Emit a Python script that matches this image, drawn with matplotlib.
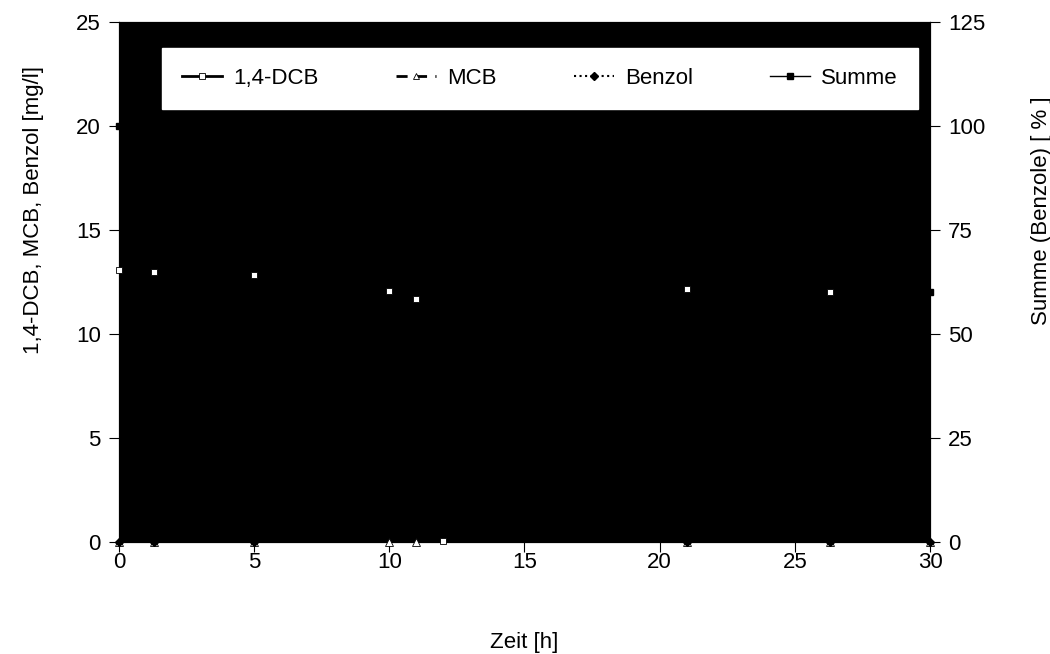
import numpy as np
import matplotlib.pyplot as plt
from matplotlib.lines import Line2D

plt.rcParams['font.family'] = ['Liberation Sans', 'DejaVu Sans']

# time points [h]
t_dcb = [0, 1.3, 5, 10, 11, 12, 21, 26.3]
dcb = [13.1, 13.0, 12.85, 12.05, 11.7, 0.05, 12.15, 12.0]

t_mcb = [0, 1.3, 5, 10, 11, 21, 26.3, 30]
mcb = [0, 0, 0, 0, 0, 0, 0, 0]

t_benzol = [0, 1.3, 5, 21, 26.3, 30]
benzol = [0, 0, 0, 0, 0, 0]

# Summe in % (only start and end readable, rest hidden on black area)
t_summe = [0, 1.3, 5, 10, 11, 21, 26.3, 30]
summe = [100, 99, 98, 92, 89, 93, 92, 60]

fig = plt.figure(figsize=(10.5, 6.54), dpi=100)
ax = fig.add_axes([0.1133, 0.1713, 0.7724, 0.795])
ax2 = ax.twinx()

ax.set_facecolor('black')
ax.set_zorder(ax2.get_zorder() + 1)
ax2.patch.set_visible(False)

summe_l = np.array(summe) / 5.0  # right axis 0..125 -> left 0..25

# lines (clipped to plot area)
ax.plot(t_dcb, dcb, color='black', lw=2, zorder=2)
ax.plot(t_mcb, mcb, color='black', lw=2, ls=(0, (4, 3)), zorder=2)
ax.plot(t_benzol, benzol, color='black', lw=1.5, ls=':', zorder=2)
ax.plot(t_summe, summe_l, color='black', lw=1, zorder=2)

# markers (may sit on the frame)
ax.plot(t_mcb, mcb, ls='none', marker='^', ms=6, mfc='white', mec='black',
        mew=0.6, clip_on=False, zorder=3)
ax.plot(t_dcb, dcb, ls='none', marker='s', ms=5, mfc='white', mec='black',
        mew=0.6, clip_on=False, zorder=4)
ax.plot(t_benzol, benzol, ls='none', marker='D', ms=4.5, mfc='black',
        mec='black', clip_on=False, zorder=5)
ax.plot(t_summe, summe_l, ls='none', marker='s', ms=5, mfc='black',
        mec='black', clip_on=False, zorder=6)

ax.set_xlim(0, 30)
ax.set_ylim(0, 25)
ax2.set_ylim(0, 125)
ax.set_xticks(np.arange(0, 31, 5))
ax.set_yticks(np.arange(0, 26, 5))
ax2.set_yticks(np.arange(0, 126, 25))

for a in (ax, ax2):
    a.tick_params(direction='out', length=7, width=0.8, labelsize=16, pad=6)
    for s in a.spines.values():
        s.set_linewidth(0.8)
ax.tick_params(axis='x', pad=0)

ax.set_xlabel('Zeit [h]', fontsize=16, labelpad=43)
ax.set_ylabel('1,4-DCB, MCB, Benzol [mg/l]', fontsize=16)
ax2.set_ylabel('Summe (Benzole) [ % ]', fontsize=16)
ax.yaxis.set_label_coords(-0.092, 0.638)
ax2.yaxis.set_label_coords(1.1245, 0.638)

handles = [
    Line2D([], [], color='black', lw=2, marker='s', ms=5, mfc='white', mec='black', mew=0.6),
    Line2D([], [], color='black', lw=2, ls=(0, (4, 3)), marker='^', ms=5, mfc='white', mec='black', mew=0.6),
    Line2D([], [], color='black', lw=1.5, ls=':', marker='D', ms=4, mfc='black', mec='black'),
    Line2D([], [], color='black', lw=1, marker='s', ms=5, mfc='black', mec='black'),
]
leg = ax.legend(handles, ['1,4-DCB', 'MCB', 'Benzol', 'Summe'],
                loc='center', bbox_to_anchor=(0.053, 0.831, 0.932, 0.121),
                mode='expand', ncol=4, fontsize=16, frameon=True,
                fancybox=False, framealpha=1, facecolor='white',
                edgecolor='white', handlelength=1.8, handletextpad=0.5,
                borderpad=0.9, borderaxespad=0)
leg.set_zorder(10)

fig.savefig('out.png', dpi=100)
